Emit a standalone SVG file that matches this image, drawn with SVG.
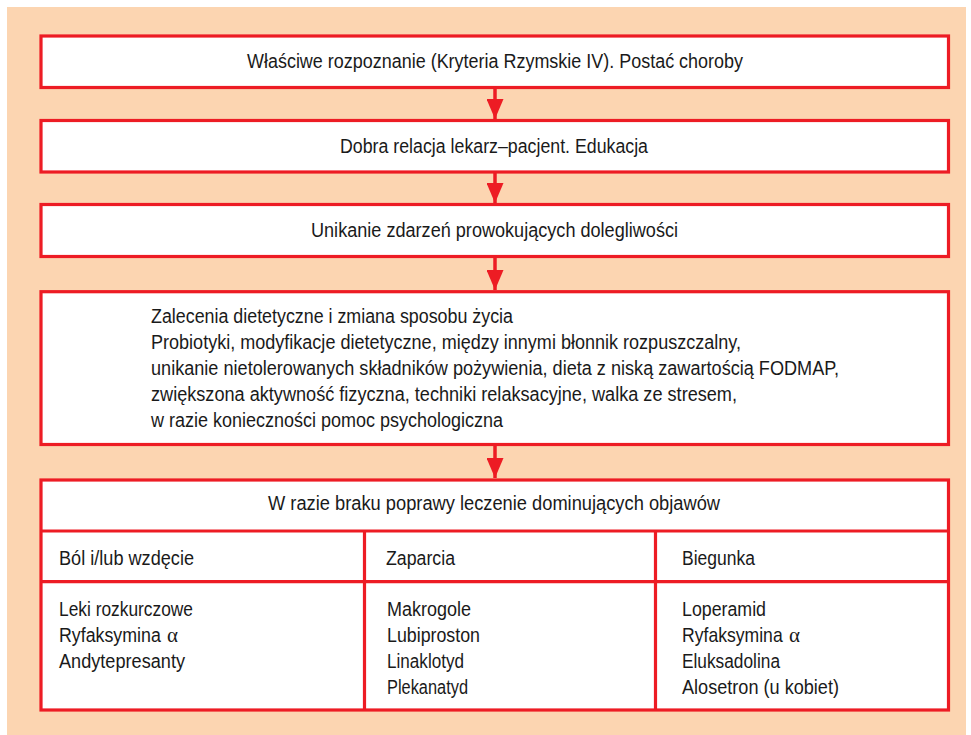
<svg xmlns="http://www.w3.org/2000/svg" width="971" height="735" viewBox="0 0 971 735">
<defs>
<style>
.box{fill:#ffffff;stroke:#ED1C24;stroke-width:3.2}
.ln{stroke:#ED1C24;stroke-width:3.2;fill:none}
.t{font-family:"Liberation Sans",Arial,sans-serif;font-size:20px;fill:#1a1a1a}
.a{font-family:"Liberation Serif","Times New Roman",serif;font-size:21px;fill:#1a1a1a}
.conn{stroke:#ED1C24;stroke-width:3.5;fill:none}
</style>
<marker id="arr" viewBox="0 0 20 17" refX="20" refY="8.5" markerWidth="20" markerHeight="17" markerUnits="userSpaceOnUse" orient="auto">
<path d="M0,0 L20,8.5 L0,17 Z" fill="#ED1C24"/>
</marker>
</defs>
<rect x="7" y="7" width="959" height="728" fill="#FCD5B1"/>
<g id="connectors">
<line class="conn" x1="495" y1="89" x2="495" y2="119" marker-end="url(#arr)"/>
<line class="conn" x1="495" y1="173" x2="495" y2="203" marker-end="url(#arr)"/>
<line class="conn" x1="495" y1="257" x2="495" y2="290" marker-end="url(#arr)"/>
<line class="conn" x1="495" y1="446" x2="495" y2="478" marker-end="url(#arr)"/>
</g>
<g id="n1">
<rect class="box" x="41" y="36" width="907.5" height="51.5"/>
<text class="t" x="247" y="68" textLength="496" lengthAdjust="spacingAndGlyphs">Właściwe rozpoznanie (Kryteria Rzymskie IV). Postać choroby</text>
</g>
<g id="n2">
<rect class="box" x="41" y="120.5" width="907.5" height="51.5"/>
<text class="t" x="340" y="153" textLength="308" lengthAdjust="spacingAndGlyphs">Dobra relacja lekarz–pacjent. Edukacja</text>
</g>
<g id="n3">
<rect class="box" x="41" y="204.5" width="907.5" height="52"/>
<text class="t" x="311" y="237" textLength="367" lengthAdjust="spacingAndGlyphs">Unikanie zdarzeń prowokujących dolegliwości</text>
</g>
<g id="n4">
<rect class="box" x="41" y="291.7" width="907.5" height="152.8"/>
<text class="t" x="151" y="323" textLength="362" lengthAdjust="spacingAndGlyphs">Zalecenia dietetyczne i zmiana sposobu życia</text>
<text class="t" x="151" y="349" textLength="590" lengthAdjust="spacingAndGlyphs">Probiotyki, modyfikacje dietetyczne, między innymi błonnik rozpuszczalny,</text>
<text class="t" x="151" y="375" textLength="688" lengthAdjust="spacingAndGlyphs">unikanie nietolerowanych składników pożywienia, dieta z niską zawartością FODMAP,</text>
<text class="t" x="151" y="401" textLength="586" lengthAdjust="spacingAndGlyphs">zwiększona aktywność fizyczna, techniki relaksacyjne, walka ze stresem,</text>
<text class="t" x="151" y="427" textLength="352" lengthAdjust="spacingAndGlyphs">w razie konieczności pomoc psychologiczna</text>
</g>
<g id="n5">
<rect class="box" x="41" y="480" width="907.5" height="230"/>
<line class="ln" x1="41" y1="531" x2="948.5" y2="531"/>
<line class="ln" x1="41" y1="581.7" x2="948.5" y2="581.7"/>
<line class="ln" x1="364.5" y1="531" x2="364.5" y2="710"/>
<line class="ln" x1="655.5" y1="531" x2="655.5" y2="710"/>
<text class="t" x="268" y="510" textLength="452" lengthAdjust="spacingAndGlyphs">W razie braku poprawy leczenie dominujących objawów</text>
<text class="t" x="59" y="565" textLength="135" lengthAdjust="spacingAndGlyphs">Ból i/lub wzdęcie</text>
<text class="t" x="386" y="565" textLength="69" lengthAdjust="spacingAndGlyphs">Zaparcia</text>
<text class="t" x="682" y="565" textLength="73" lengthAdjust="spacingAndGlyphs">Biegunka</text>
<text class="t" x="59" y="616" textLength="134" lengthAdjust="spacingAndGlyphs">Leki rozkurczowe</text>
<text class="t" transform="translate(59,642) scale(0.89,1)">Ryfaksymina</text>
<text class="a" x="167" y="642">α</text>
<text class="t" x="59" y="668" textLength="126" lengthAdjust="spacingAndGlyphs">Andytepresanty</text>
<text class="t" x="387" y="616" textLength="84" lengthAdjust="spacingAndGlyphs">Makrogole</text>
<text class="t" x="387" y="642" textLength="93" lengthAdjust="spacingAndGlyphs">Lubiproston</text>
<text class="t" x="387" y="668" textLength="77" lengthAdjust="spacingAndGlyphs">Linaklotyd</text>
<text class="t" x="387" y="694" textLength="81" lengthAdjust="spacingAndGlyphs">Plekanatyd</text>
<text class="t" x="682" y="616" textLength="84" lengthAdjust="spacingAndGlyphs">Loperamid</text>
<text class="t" transform="translate(682,642) scale(0.88,1)">Ryfaksymina</text>
<text class="a" x="789" y="642">α</text>
<text class="t" x="682" y="668" textLength="98" lengthAdjust="spacingAndGlyphs">Eluksadolina</text>
<text class="t" x="682" y="694" textLength="157" lengthAdjust="spacingAndGlyphs">Alosetron (u kobiet)</text>
</g>
</svg>
